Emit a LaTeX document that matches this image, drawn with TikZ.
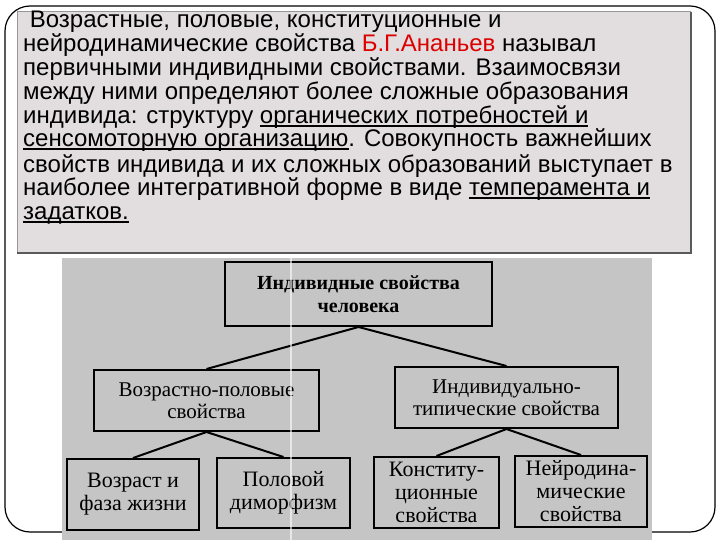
\documentclass[tikz,border=0pt]{standalone}
\usepackage{fontspec}
\setmainfont{Liberation Sans}
\newfontfamily\diagfont{Liberation Serif}
\definecolor{boxgray}{RGB}{226,222,224}
\definecolor{edgegray}{RGB}{150,150,150}
\definecolor{edgedark}{RGB}{90,90,90}
\definecolor{photogray}{RGB}{197,197,197}
\definecolor{namered}{RGB}{220,0,0}
\newcommand\myul[1]{\leavevmode\setbox0\hbox{#1}\rlap{\rule[-3bp]{\wd0}{1.8bp}}\box0}
\tikzset{
  txtline/.style={anchor=base west, inner sep=0pt, font=\fontsize{24bp}{24bp}\selectfont},
  dbox/.style={draw=black, line width=2bp, align=center, inner sep=0pt,
    font=\diagfont\fontsize{21bp}{22bp}\selectfont},
  lbox/.style={dbox, font=\diagfont\fontsize{22bp}{23bp}\selectfont},
  tbox/.style={dbox, font=\diagfont\bfseries\fontsize{20bp}{23bp}\selectfont},
  conn/.style={line width=2bp, black}
}
\begin{document}
\begin{tikzpicture}[x=1bp,y=-1bp]
\useasboundingbox (0,0) rectangle (720,540);
% outer frame
\draw[line width=1.2bp, rounded corners=25bp] (5,6) rectangle (715,532);
% text panel
\fill[boxgray] (17,12) rectangle (691,253);
\draw[edgegray, line width=1bp] (17,253) -- (17,12) -- (691,12);
\draw[edgedark, line width=1.2bp] (691,12) -- (691,253) -- (17,253);
% text lines
\node[txtline] (l1) at (23,28) {\ Возрастные, половые, конституционные и};
\node[txtline] (l2) at (23,52) {нейродинамические свойства \textcolor{namered}{Б.Г.Ананьев} называл};
\node[txtline] (l3) at (23,76) {первичными индивидными свойствами. Взаимосвязи};
\node[txtline] (l4) at (23,100) {между ними определяют более сложные образования};
\node[txtline] (l5) at (23,124) {индивида: структуру \myul{органических потребностей и}};
\node[txtline] (l6) at (23,147) {\myul{сенсомоторную организацию}. Совокупность важнейших};
\node[txtline] (l7) at (23,173) {свойств индивида и их сложных образований выступает в};
\node[txtline] (l8) at (23,196) {наиболее интегративной форме в виде \myul{темперамента и}};
\node[txtline] (l9) at (23,220) {\myul{задатков.}};
% photo background
\fill[photogray] (62,258) rectangle (652,540);
% boxes
\node[tbox, minimum width=267bp, minimum height=64bp] (top) at (358.5,294) {Индивидные свойства\\человека};
\node[dbox, minimum width=225bp, minimum height=61bp] (lm) at (206.5,400.5) {Возрастно-половые\\свойства};
\node[dbox, minimum width=223bp, minimum height=61bp] (rm) at (506.5,397.5) {Индивидуально-\\типические свойства};
\node[lbox, minimum width=132bp, minimum height=71bp] (b1) at (133,494.5) {Возраст и\\фаза жизни};
\node[lbox, minimum width=133bp, minimum height=70bp] (b2) at (283.5,493) {Половой\\диморфизм};
\node[lbox, minimum width=125bp, minimum height=71bp] (b3) at (436.5,492.5) {Конститу-\\ционные\\свойства};
\node[lbox, minimum width=132bp, minimum height=71bp] (b4) at (581,491.5) {Нейродина-\\мические\\свойства};
% connectors
\draw[conn] (top.south) -- (lm.north);
\draw[conn] (top.south) -- (rm.north);
\draw[conn] (lm.south) -- (b1.north);
\draw[conn] (lm.south) -- (b2.north);
\draw[conn] (rm.south) -- (b3.north);
\draw[conn] (rm.south) -- (b4.north);
% scan fold line
\coordinate (f1) at (291,258);
\coordinate (f2) at (291,540);
\draw[white, opacity=0.6, line width=1.5bp] (f1) -- (f2);
\end{tikzpicture}
\end{document}
